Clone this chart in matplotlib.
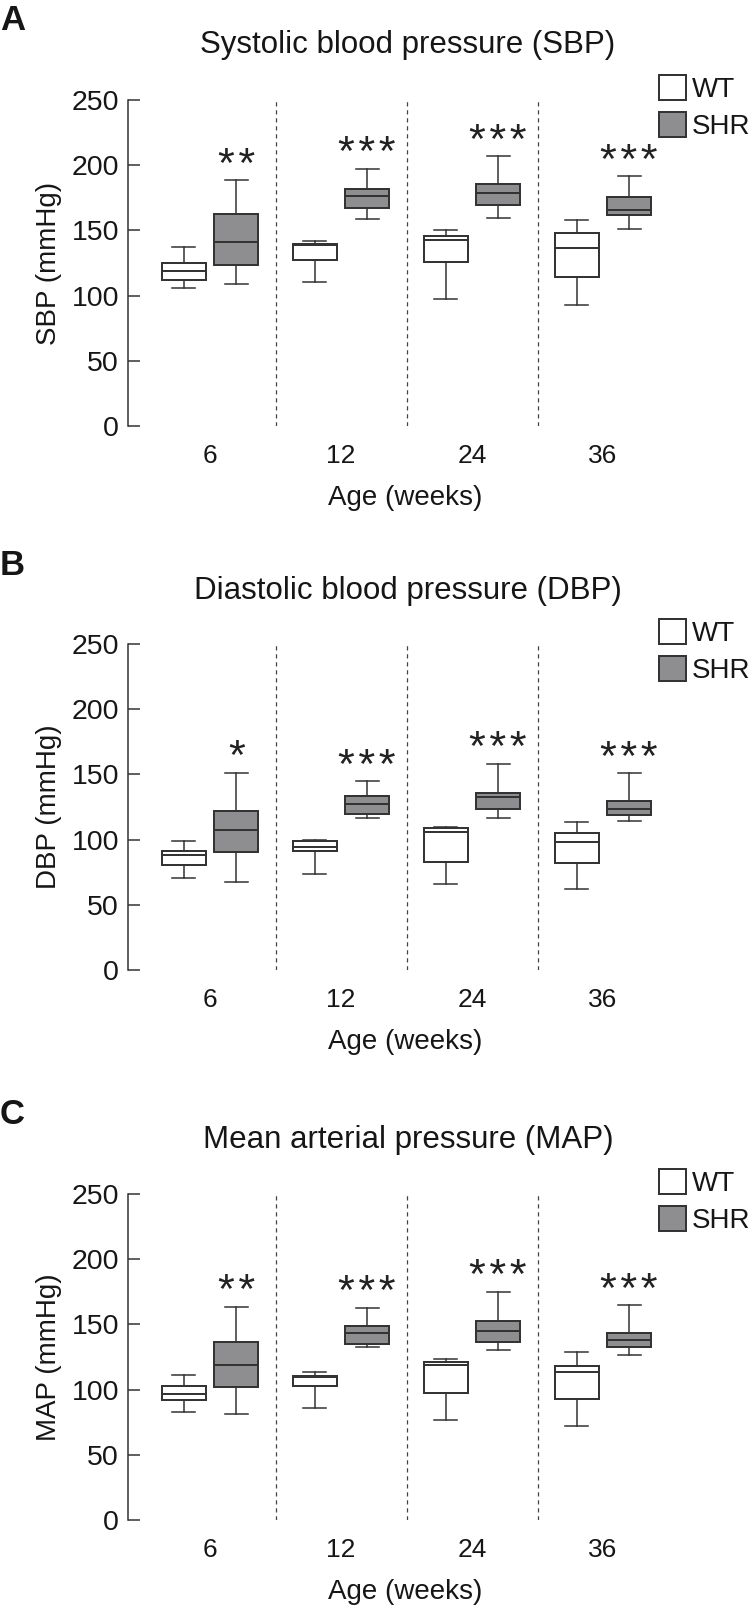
import matplotlib
matplotlib.use("Agg")
import matplotlib.pyplot as plt
from matplotlib.patches import Patch

plt.rcParams['font.family'] = ['Liberation Sans', 'DejaVu Sans']

# ---------------- data ----------------
ages = ["6", "12", "24", "36"]
groups = ["WT", "SHR"]

# Systolic blood pressure (mmHg)
wt_sbp_low = [105.7, 110.8, 97.2, 92.7]
wt_sbp_q1 = [111.6, 127.2, 125.9, 113.9]
wt_sbp_med = [118.7, 138.9, 142.5, 136.4]
wt_sbp_q3 = [125.1, 139.7, 145.9, 147.7]
wt_sbp_high = [136.9, 142.0, 150.0, 158.1]
shr_sbp_low = [109.0, 158.9, 159.7, 151.0]
shr_sbp_q1 = [123.8, 166.8, 169.4, 161.5]
shr_sbp_med = [141.2, 176.0, 178.6, 165.8]
shr_sbp_q3 = [162.5, 181.7, 185.5, 175.8]
shr_sbp_high = [188.3, 197.3, 206.8, 191.7]
sig_sbp = ["**", "***", "***", "***"]

# Diastolic blood pressure (mmHg)
wt_dbp_low = [70.6, 73.6, 65.7, 62.4]
wt_dbp_q1 = [80.8, 91.0, 83.1, 82.3]
wt_dbp_med = [87.9, 94.3, 106.1, 98.2]
wt_dbp_q3 = [91.5, 99.2, 108.6, 104.8]
wt_dbp_high = [99.2, 99.5, 109.9, 113.5]
shr_dbp_low = [67.7, 116.3, 116.3, 114.3]
shr_dbp_q1 = [90.7, 119.9, 123.5, 118.6]
shr_dbp_med = [107.1, 127.6, 132.4, 123.2]
shr_dbp_q3 = [122.2, 133.2, 136.0, 129.4]
shr_dbp_high = [151.1, 144.7, 158.0, 150.8]
sig_dbp = ["*", "***", "***", "***"]

# Mean arterial pressure (mmHg)
wt_map_low = [82.6, 86.2, 76.4, 71.9]
wt_map_q1 = [92.1, 103.1, 97.7, 92.9]
wt_map_med = [96.9, 109.7, 119.0, 113.6]
wt_map_q3 = [103.1, 110.8, 120.8, 117.9]
wt_map_high = [111.5, 113.8, 123.3, 128.7]
shr_map_low = [81.3, 132.3, 130.5, 126.2]
shr_map_q1 = [101.8, 134.6, 136.7, 132.3]
shr_map_med = [118.5, 143.1, 145.1, 137.9]
shr_map_q3 = [136.4, 149.0, 152.6, 143.6]
shr_map_high = [163.6, 162.8, 174.9, 164.5]
sig_map = ["**", "***", "***", "***"]

panels = [
    ("A", "Systolic blood pressure (SBP)", "SBP (mmHg)",
     (wt_sbp_low, wt_sbp_q1, wt_sbp_med, wt_sbp_q3, wt_sbp_high),
     (shr_sbp_low, shr_sbp_q1, shr_sbp_med, shr_sbp_q3, shr_sbp_high), sig_sbp),
    ("B", "Diastolic blood pressure (DBP)", "DBP (mmHg)",
     (wt_dbp_low, wt_dbp_q1, wt_dbp_med, wt_dbp_q3, wt_dbp_high),
     (shr_dbp_low, shr_dbp_q1, shr_dbp_med, shr_dbp_q3, shr_dbp_high), sig_dbp),
    ("C", "Mean arterial pressure (MAP)", "MAP (mmHg)",
     (wt_map_low, wt_map_q1, wt_map_med, wt_map_q3, wt_map_high),
     (shr_map_low, shr_map_q1, shr_map_med, shr_map_q3, shr_map_high), sig_map),
]

# ---------------- style ----------------
W, H = 750, 1605
EDGE = "#333333"
SHR_FILL = "#8e8e90"
TXT = "#161616"
LW = 1.1

fig = plt.figure(figsize=(W / 100, H / 100), dpi=100)

axes_tops = [100, 644, 1194]
ax_h = 326
ax_left, ax_right = 128, 688
title_baselines = [53, 599, 1148]
letter_baselines = [30, 575, 1124]


def stats_from(arrs):
    low, q1, med, q3, high = arrs
    return [dict(whislo=low[i], q1=q1[i], med=med[i], q3=q3[i], whishi=high[i], fliers=[])
            for i in range(len(low))]


for k, (letter, title, ylabel, wt, shr, sig) in enumerate(panels):
    top = axes_tops[k]
    ax = fig.add_axes([ax_left / W, 1 - (top + ax_h) / H,
                       (ax_right - ax_left) / W, ax_h / H])
    pos = list(range(len(ages)))
    off = 0.2
    bw = 0.336
    for stats, shift, fill in ((stats_from(wt), -off, "white"),
                               (stats_from(shr), off, SHR_FILL)):
        ax.bxp(stats, positions=[p + shift for p in pos], widths=bw,
               capwidths=bw * 0.52, patch_artist=True, showfliers=False,
               boxprops=dict(facecolor=fill, edgecolor=EDGE, linewidth=LW * 1.3),
               medianprops=dict(color=EDGE, linewidth=LW * 1.3),
               whiskerprops=dict(color=EDGE, linewidth=LW),
               capprops=dict(color=EDGE, linewidth=LW),
               manage_ticks=False)
    # significance stars
    for i, s in enumerate(sig):
        ax.annotate("\u200a".join(s), xy=(pos[i] + off, shr[4][i]), xytext=(0, 2.5),
                    textcoords="offset points", ha="center", va="baseline",
                    fontsize=31, family=["Liberation Sans", "DejaVu Sans"],
                    color="#222222")
    # dashed separators
    for i in range(len(ages) - 1):
        ax.plot([i + 0.5, i + 0.5], [0, 250], color="#444444", lw=0.9,
                linestyle=(0, (3.4, 3.0)), zorder=0)

    ax.set_xlim(-0.626, -0.626 + (ax_right - ax_left) / 131)
    ax.set_ylim(0, 250)
    ax.set_yticks([0, 50, 100, 150, 200, 250])
    ax.set_xticks(pos)
    ax.set_xticklabels(ages)
    for sp in ("top", "right", "bottom"):
        ax.spines[sp].set_visible(False)
    ax.spines["left"].set_linewidth(LW)
    ax.spines["left"].set_color(EDGE)
    ax.tick_params(axis="y", direction="in", length=8.6, width=LW, color=EDGE,
                   labelsize=20.5, pad=6.5, labelcolor=TXT)
    ax.tick_params(axis="x", length=0, labelsize=19, pad=13, labelcolor=TXT)
    ax.set_ylabel(ylabel, fontsize=20, color=TXT)
    ax.yaxis.set_label_coords(-0.118, 0.5)
    ax.set_xlabel("Age (weeks)", fontsize=20, color=TXT, va="top")
    ax.xaxis.set_label_coords(0.4955, -0.181)
    ax.patch.set_visible(False)

    handles = [Patch(facecolor="white", edgecolor=EDGE, linewidth=LW * 1.3),
               Patch(facecolor=SHR_FILL, edgecolor=EDGE, linewidth=LW * 1.3)]
    ax.legend(handles, groups, loc="upper left",
              bbox_to_anchor=(659 / W, 1 - (top - 25) / H),
              bbox_transform=fig.transFigure, frameon=False, borderpad=0,
              borderaxespad=0, handlelength=0.98, handleheight=1.0,
              handletextpad=0.2, labelspacing=0.32, fontsize=20,
              labelcolor=TXT)

    fig.text(408 / W, 1 - title_baselines[k] / H, title, ha="center",
             va="baseline", fontsize=22.5, color=TXT)
    fig.text(0 / W, 1 - letter_baselines[k] / H, letter, ha="left",
             va="baseline", fontsize=25, fontweight="bold", color=TXT)

fig.savefig("out.png", dpi=100)
